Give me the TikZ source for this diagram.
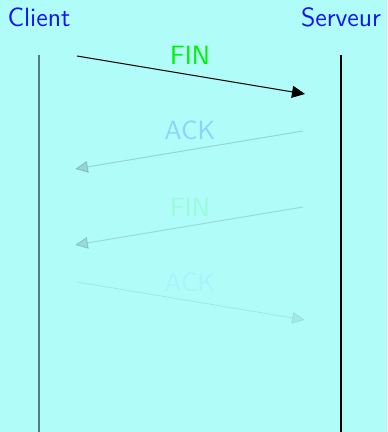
\documentclass[tikz,border=0pt]{standalone}
\usepackage{fontspec}
\usepackage{tikz}
\usetikzlibrary{arrows.meta, positioning}
\definecolor{slideBg}{HTML}{B0FCF9}
\definecolor{roleBlue}{HTML}{1414F5}
\definecolor{finGreen}{HTML}{00F000}
\definecolor{ackBlue}{HTML}{2A7CFF}
\definecolor{clientLine}{HTML}{4F7F80}

\begin{document}
\begin{tikzpicture}[x=0.5pt, y=-0.5pt,
    every node/.style={font=\sffamily\fontsize{13.2}{15}\selectfont, inner sep=0pt},
    role/.style={text=roleBlue, anchor=base},
    msg/.style={anchor=base},
    arr/.style={line width=0.5pt, -{Triangle[length=6.5pt, width=6pt]}}]
        \fill[slideBg] (0,0) rectangle (387,432);
        \useasboundingbox (0,0) rectangle (387,432);
        % roles and lifelines
        \node[role] (client) at (39,27) {Client};
        \node[role] (serveur) at (341,27) {Serveur};
        \coordinate (ctop) at (39,55); \coordinate (cbot) at (39,432);
        \coordinate (stop) at (341,55); \coordinate (sbot) at (341,432);
        \draw[clientLine, line width=0.6pt] (ctop) -- (cbot);
        \draw[black, line width=0.6pt] (stop) -- (sbot);
        % messages
        \foreach \i/\xa/\xb/\y/\txt/\tc/\ta/\da in {1/77/305/56/FIN/finGreen/1/1, 2/303/75/131/ACK/ackBlue/0.3/0.15,
            3/303/75/207/FIN/finGreen/0.12/0.13, 4/77/305/282/ACK/ackBlue/0.06/0.07}{
          \coordinate (src\i) at (\xa,\y);
          \coordinate (dst\i) at (\xb,\y+38);
          \node[msg, text=\tc, text opacity=\ta] (lbl\i) at (190,\y+9) {\txt};
          \draw[arr, draw opacity=\da, fill opacity=\da] (src\i) -- (dst\i);}
      \end{tikzpicture}
\end{document}
